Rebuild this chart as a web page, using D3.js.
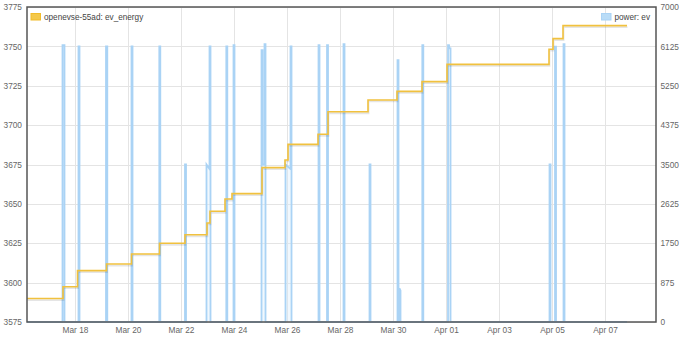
<!DOCTYPE html>
<html>
<head>
<meta charset="utf-8">
<script src="https://cdn.jsdelivr.net/npm/d3@7"></script>
<style>
  body { margin: 0; background: #fff; }
  text { font-family: "Liberation Sans", Arial, sans-serif; }
</style>
</head>
<body>
<svg></svg>
<script>
const svgWidth = 690
const svgHeight = 341
const margins = { top: 7, bottom: 19, left: 27, right: 34 }
const plotWidth = svgWidth - margins.left - margins.right
const plotHeight = svgHeight - margins.top - margins.bottom

// energy counter (kWh), stepped
const energyTimes = [
    "2021-03-16T04:32", "2021-03-17T13:08", "2021-03-18T02:16", "2021-03-19T04:32",
    "2021-03-20T03:10", "2021-03-21T04:32", "2021-03-22T03:37", "2021-03-22T23:33",
    "2021-03-23T02:16", "2021-03-23T15:51", "2021-03-23T22:11", "2021-03-25T01:22",
    "2021-03-25T22:11", "2021-03-26T00:55", "2021-03-27T04:05", "2021-03-27T13:08",
    "2021-03-29T01:22", "2021-03-30T03:37", "2021-03-31T02:16", "2021-04-01T00:55",
    "2021-04-04T21:17", "2021-04-05T00:55", "2021-04-05T09:58", "2021-04-07T19:55"
]
const energyValues = [
    3589.9, 3597.4, 3607.6, 3611.8, 3618.2, 3625.0, 3630.4, 3637.9,
    3645.3, 3653.1, 3656.5, 3673.0, 3677.9, 3687.8, 3694.2, 3708.5,
    3716.0, 3721.4, 3727.6, 3738.6, 3748.2, 3754.9, 3763.2, 3763.2
]

// charger power (W)
const powerReadings = [
    ["2021-03-16T04:32", 0],
    ["2021-03-17T12:41", 0], ["2021-03-17T12:41", 6150], ["2021-03-17T14:29", 6150], ["2021-03-17T14:29", 0],
    ["2021-03-18T03:10", 0], ["2021-03-18T03:10", 6125], ["2021-03-18T04:05", 6125], ["2021-03-18T04:05", 0],
    ["2021-03-19T04:05", 0], ["2021-03-19T04:05", 6125], ["2021-03-19T05:15", 6125], ["2021-03-19T05:15", 0],
    ["2021-03-20T03:10", 0], ["2021-03-20T03:10", 6125], ["2021-03-20T04:05", 6125], ["2021-03-20T04:05", 0],
    ["2021-03-21T04:21", 0], ["2021-03-21T04:21", 6125], ["2021-03-21T05:15", 6125], ["2021-03-21T05:15", 0],
    ["2021-03-22T03:37", 0], ["2021-03-22T03:37", 3500], ["2021-03-22T04:32", 3500], ["2021-03-22T04:32", 0],
    ["2021-03-22T23:05", 0], ["2021-03-22T23:05", 3500], ["2021-03-23T01:49", 3400], ["2021-03-23T01:49", 6125], ["2021-03-23T02:43", 6125], ["2021-03-23T02:43", 0],
    ["2021-03-23T17:02", 0], ["2021-03-23T17:02", 6125], ["2021-03-23T17:56", 6125], ["2021-03-23T17:56", 0],
    ["2021-03-23T23:33", 0], ["2021-03-23T23:33", 6150], ["2021-03-24T00:27", 6150], ["2021-03-24T00:27", 0],
    ["2021-03-25T00:55", 0], ["2021-03-25T00:55", 6040], ["2021-03-25T01:49", 6040], ["2021-03-25T01:49", 3500],
    ["2021-03-25T03:37", 3500], ["2021-03-25T03:37", 6175], ["2021-03-25T04:32", 6175], ["2021-03-25T04:32", 0],
    ["2021-03-25T22:38", 0], ["2021-03-25T22:38", 3500], ["2021-03-26T03:10", 3400], ["2021-03-26T03:10", 6125], ["2021-03-26T04:05", 6125], ["2021-03-26T04:05", 0],
    ["2021-03-27T04:32", 0], ["2021-03-27T04:32", 6150], ["2021-03-27T05:26", 6150], ["2021-03-27T05:26", 0],
    ["2021-03-27T12:14", 0], ["2021-03-27T12:14", 6150], ["2021-03-27T13:08", 6150], ["2021-03-27T13:08", 0],
    ["2021-03-28T03:10", 0], ["2021-03-28T03:10", 6175], ["2021-03-28T04:05", 6175], ["2021-03-28T04:05", 0],
    ["2021-03-29T02:43", 0], ["2021-03-29T02:43", 3500], ["2021-03-29T03:37", 3500], ["2021-03-29T03:37", 0],
    ["2021-03-30T04:05", 0], ["2021-03-30T04:05", 5820], ["2021-03-30T04:59", 5820], ["2021-03-30T04:59", 0],
    ["2021-03-30T05:53", 0], ["2021-03-30T05:53", 750], ["2021-03-30T06:47", 700], ["2021-03-30T06:47", 0],
    ["2021-03-31T02:32", 0], ["2021-03-31T02:32", 6150], ["2021-03-31T03:26", 6150], ["2021-03-31T03:26", 0],
    ["2021-04-01T01:49", 0], ["2021-04-01T01:49", 6150], ["2021-04-01T02:43", 6150], ["2021-04-01T03:10", 6080], ["2021-04-01T04:05", 6080], ["2021-04-01T04:05", 0],
    ["2021-04-04T21:44", 0], ["2021-04-04T21:44", 3500], ["2021-04-04T22:38", 3500], ["2021-04-04T22:38", 0],
    ["2021-04-05T02:43", 0], ["2021-04-05T02:43", 6120], ["2021-04-05T03:37", 6120], ["2021-04-05T03:37", 0],
    ["2021-04-05T10:25", 0], ["2021-04-05T10:25", 6175], ["2021-04-05T11:19", 6175], ["2021-04-05T11:19", 0],
    ["2021-04-07T19:55", 0]
]

const xTickLabels = ["Mar 18", "Mar 20", "Mar 22", "Mar 24", "Mar 26", "Mar 28", "Mar 30", "Apr 01", "Apr 03", "Apr 05", "Apr 07"]
const energyTicks = [3575, 3600, 3625, 3650, 3675, 3700, 3725, 3750, 3775]
const powerTicks = [0, 875, 1750, 2625, 3500, 4375, 5250, 6125, 7000]

const parseTime = d3.utcParse("%Y-%m-%dT%H:%M")
const parseTick = d3.utcParse("%b %d %Y")

const svg = d3.select("svg")
    .attr("width", svgWidth)
    .attr("height", svgHeight)

const xScale = d3.scaleUtc()
    .domain([parseTime("2021-03-16T04:32"), parseTime("2021-04-08T22:10")])
    .range([margins.left, margins.left + plotWidth])
const yEnergy = d3.scaleLinear()
    .domain([3575, 3775])
    .range([margins.top + plotHeight, margins.top])
const yPower = d3.scaleLinear()
    .domain([0, 7000])
    .range([margins.top + plotHeight, margins.top])

const xTicks = xTickLabels.map((d) => parseTick(d + " 2021"))

// grid
svg.append("g")
    .selectAll("line")
    .data(energyTicks)
    .join("line")
    .attr("x1", margins.left)
    .attr("x2", margins.left + plotWidth)
    .attr("y1", (d) => Math.round(yEnergy(d)) + 0.5)
    .attr("y2", (d) => Math.round(yEnergy(d)) + 0.5)
    .attr("stroke", "#e4e4e4")
svg.append("g")
    .selectAll("line")
    .data(xTicks)
    .join("line")
    .attr("x1", (d) => Math.round(xScale(d)) + 0.5)
    .attr("x2", (d) => Math.round(xScale(d)) + 0.5)
    .attr("y1", margins.top)
    .attr("y2", margins.top + plotHeight)
    .attr("stroke", "#e4e4e4")

// power
const powerData = powerReadings.map((d) => [parseTime(d[0]), d[1]])
svg.append("path")
    .datum(powerData)
    .attr("d", d3.area()
        .x((d) => xScale(d[0]))
        .y0(yPower(0))
        .y1((d) => yPower(d[1])))
    .attr("fill", "#d6eafb")
    .attr("fill-opacity", 0.35)
svg.append("path")
    .datum(powerData)
    .attr("d", d3.line()
        .x((d) => xScale(d[0]))
        .y((d) => yPower(d[1])))
    .attr("fill", "none")
    .attr("stroke", "#aad3f5")
    .attr("stroke-width", 1.8)

// energy
const energyData = energyTimes.map((t, i) => [parseTime(t), energyValues[i]])
const energyLine = d3.line()
    .x((d) => xScale(d[0]))
    .y((d) => yEnergy(d[1]))
    .curve(d3.curveStepAfter)
svg.append("path")
    .datum(energyData)
    .attr("d", energyLine)
    .attr("transform", "translate(0.5,1.5)")
    .attr("fill", "none")
    .attr("stroke", "rgba(0,0,0,0.1)")
    .attr("stroke-width", 1.8)
svg.append("path")
    .datum(energyData)
    .attr("d", energyLine)
    .attr("fill", "none")
    .attr("stroke", "#f1c13e")
    .attr("stroke-width", 1.6)

// axes
const styleAxis = (g) => {
    g.select(".domain").remove()
    g.selectAll("text").attr("fill", "#666").attr("font-size", 8.3)
        .attr("font-family", "'Liberation Sans', Arial, sans-serif")
}
svg.append("g")
    .attr("transform", `translate(${margins.left},0)`)
    .call(d3.axisLeft(yEnergy).tickValues(energyTicks).tickFormat(d3.format("d")).tickSize(0).tickPadding(5))
    .call(styleAxis)
svg.append("g")
    .attr("transform", `translate(${margins.left + plotWidth},0)`)
    .call(d3.axisRight(yPower).tickValues(powerTicks).tickFormat(d3.format("d")).tickSize(0).tickPadding(4.5))
    .call(styleAxis)
svg.append("g")
    .attr("transform", `translate(0,${margins.top + plotHeight})`)
    .call(d3.axisBottom(xScale).tickValues(xTicks).tickFormat(d3.utcFormat("%b %d")).tickSize(0).tickPadding(5.5))
    .call(styleAxis)

// frame
svg.append("rect")
    .attr("x", margins.left)
    .attr("y", margins.top)
    .attr("width", plotWidth)
    .attr("height", plotHeight)
    .attr("fill", "none")
    .attr("stroke", "#555")
    .attr("stroke-width", 1.5)

// legends
const legends = [
    { label: "openevse-55ad: ev_energy", fill: "#f4c84a", stroke: "#f1bb2a", x: 44, anchor: "start" },
    { label: "power: ev", fill: "#b9dcf7", stroke: "#aad3f5", x: 650, anchor: "end" }
]
legends.forEach((d) => {
    const t = svg.append("text")
        .text(d.label)
        .attr("y", 20)
        .attr("font-size", 8.2)
        .attr("fill", "#444")
    let textX
    if (d.anchor === "start") {
        textX = d.x
        t.attr("x", textX)
    } else {
        const w = t.node().getComputedTextLength()
        textX = d.x - w
        t.attr("x", textX)
    }
    svg.append("rect")
        .attr("x", textX - 13)
        .attr("y", 13.5)
        .attr("width", 9.5)
        .attr("height", 6.5)
        .attr("fill", d.fill)
        .attr("stroke", d.stroke)
        .attr("stroke-width", 1)
})
</script>
</body>
</html>
